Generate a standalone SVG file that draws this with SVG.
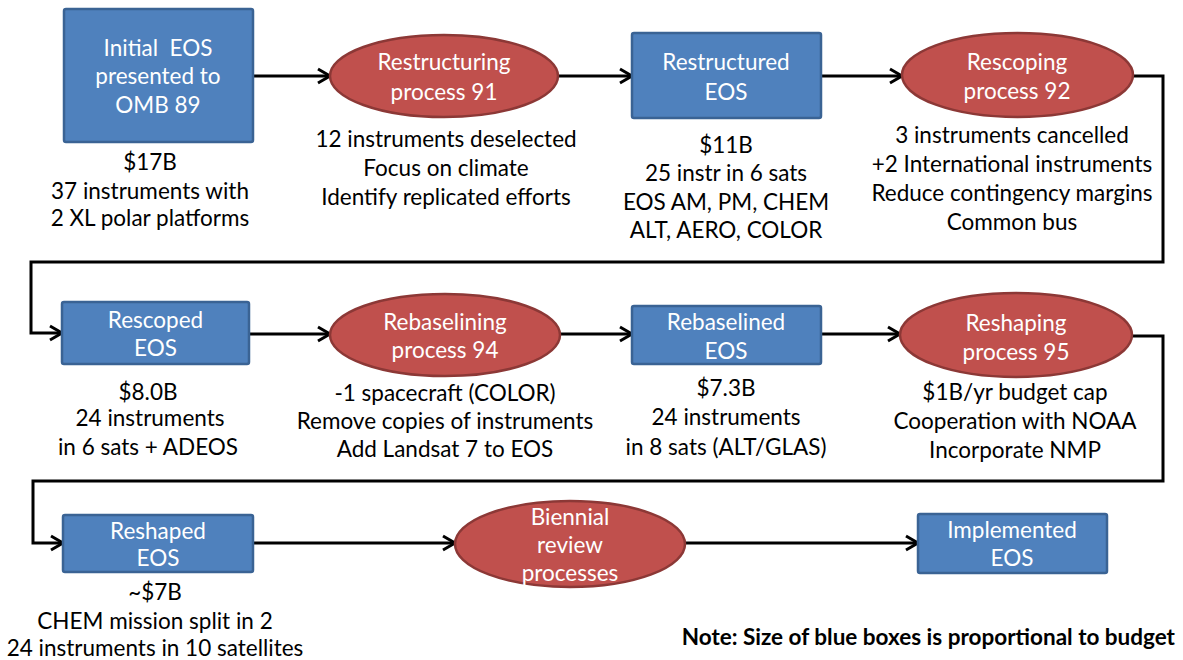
<svg xmlns="http://www.w3.org/2000/svg" width="1183" height="660" viewBox="0 0 1183 660">
  <style>
    .box { fill: #4F81BD; stroke: #3A6394; stroke-width: 2.5; }
    .proc { fill: #C0504D; stroke: #8C3836; stroke-width: 2.5; }
    .wt { fill: #FFFFFF; font-family: Lato, "Liberation Sans", sans-serif; font-size: 22.5px; text-anchor: middle; }
    .bt { fill: #000000; font-family: Lato, "Liberation Sans", sans-serif; font-size: 22.5px; text-anchor: middle; }
    .note { fill: #000000; font-family: Lato, "Liberation Sans", sans-serif; font-size: 22.5px; font-weight: bold; text-anchor: end; }
    .conn { fill: none; stroke: #000000; stroke-width: 3; marker-end: url(#arrow); }
  </style>
  <defs>
    <marker id="arrow" markerUnits="userSpaceOnUse" markerWidth="20" markerHeight="20" viewBox="-14 -10 16 20" refX="0" refY="0" orient="auto">
      <path d="M-12,-7 L0,0 L-12,7" fill="none" stroke="#000000" stroke-width="3"/>
    </marker>
  </defs>

  <!-- connectors -->
  <g id="connectors">
    <path class="conn" d="M253,76 H330"/>
    <path class="conn" d="M558,76 H632"/>
    <path class="conn" d="M821,76 H902"/>
    <path class="conn" d="M1133,76 H1163 V262 H31 V333 H62"/>
    <path class="conn" d="M249,334 H330"/>
    <path class="conn" d="M560,334 H632"/>
    <path class="conn" d="M821,334 H900"/>
    <path class="conn" d="M1132,336 H1163 V481 H33 V543 H63"/>
    <path class="conn" d="M253,543 H455"/>
    <path class="conn" d="M685,543 H918"/>
  </g>

  <!-- row 1 -->
  <g id="initial-eos">
    <rect class="box" x="64" y="9" width="189" height="133" rx="2"/>
    <text class="wt" x="158" y="56" xml:space="preserve">Initial  EOS</text>
    <text class="wt" x="158" y="84">presented to</text>
    <text class="wt" x="158" y="113">OMB 89</text>
    <text class="bt" x="150" y="170">$17B</text>
    <text class="bt" x="150" y="199">37 instruments with</text>
    <text class="bt" x="150" y="226">2 XL polar platforms</text>
  </g>

  <g id="restructuring-process">
    <ellipse class="proc" cx="444" cy="76" rx="114" ry="41"/>
    <text class="wt" x="444" y="70">Restructuring</text>
    <text class="wt" x="444" y="100">process 91</text>
    <text class="bt" x="446" y="147">12 instruments deselected</text>
    <text class="bt" x="446" y="176">Focus on climate</text>
    <text class="bt" x="446" y="205">Identify replicated efforts</text>
  </g>

  <g id="restructured-eos">
    <rect class="box" x="632" y="33" width="189" height="85" rx="2"/>
    <text class="wt" x="726" y="70">Restructured</text>
    <text class="wt" x="726" y="100">EOS</text>
    <text class="bt" x="726" y="153">$11B</text>
    <text class="bt" x="726" y="181">25 instr in 6 sats</text>
    <text class="bt" x="726" y="210">EOS AM, PM, CHEM</text>
    <text class="bt" x="726" y="238">ALT, AERO, COLOR</text>
  </g>

  <g id="rescoping-process">
    <ellipse class="proc" cx="1017.5" cy="75" rx="115.5" ry="42"/>
    <text class="wt" x="1017" y="70">Rescoping</text>
    <text class="wt" x="1017" y="99">process 92</text>
    <text class="bt" x="1012" y="143">3 instruments cancelled</text>
    <text class="bt" x="1012" y="172">+2 International instruments</text>
    <text class="bt" x="1012" y="201">Reduce contingency margins</text>
    <text class="bt" x="1012" y="230">Common bus</text>
  </g>

  <!-- row 2 -->
  <g id="rescoped-eos">
    <rect class="box" x="62" y="302" width="187" height="62" rx="2"/>
    <text class="wt" x="155.5" y="328">Rescoped</text>
    <text class="wt" x="155.5" y="356">EOS</text>
    <text class="bt" x="148" y="400">$8.0B</text>
    <text class="bt" x="150" y="426">24 instruments</text>
    <text class="bt" x="148" y="455">in 6 sats + ADEOS</text>
  </g>

  <g id="rebaselining-process">
    <ellipse class="proc" cx="445" cy="335" rx="115" ry="41"/>
    <text class="wt" x="445" y="330">Rebaselining</text>
    <text class="wt" x="445" y="358">process 94</text>
    <text class="bt" x="445" y="401">-1 spacecraft (COLOR)</text>
    <text class="bt" x="445" y="429">Remove copies of instruments</text>
    <text class="bt" x="445" y="457">Add Landsat 7 to EOS</text>
  </g>

  <g id="rebaselined-eos">
    <rect class="box" x="632" y="306" width="189" height="58" rx="2"/>
    <text class="wt" x="726" y="330">Rebaselined</text>
    <text class="wt" x="726" y="359">EOS</text>
    <text class="bt" x="726" y="396">$7.3B</text>
    <text class="bt" x="726" y="425">24 instruments</text>
    <text class="bt" x="726" y="455">in 8 sats (ALT/GLAS)</text>
  </g>

  <g id="reshaping-process">
    <ellipse class="proc" cx="1016" cy="335" rx="116" ry="42"/>
    <text class="wt" x="1016" y="331">Reshaping</text>
    <text class="wt" x="1016" y="360">process 95</text>
    <text class="bt" x="1015" y="400">$1B/yr budget cap</text>
    <text class="bt" x="1015" y="429">Cooperation with NOAA</text>
    <text class="bt" x="1015" y="458">Incorporate NMP</text>
  </g>

  <!-- row 3 -->
  <g id="reshaped-eos">
    <rect class="box" x="63" y="515" width="190" height="57" rx="2"/>
    <text class="wt" x="158" y="539">Reshaped</text>
    <text class="wt" x="158" y="566">EOS</text>
    <text class="bt" x="155" y="600">~$7B</text>
    <text class="bt" x="155" y="629">CHEM mission split in 2</text>
    <text class="bt" x="155" y="656">24 instruments in 10 satellites</text>
  </g>

  <g id="biennial-review">
    <ellipse class="proc" cx="570" cy="544" rx="115" ry="43"/>
    <text class="wt" x="570" y="525">Biennial</text>
    <text class="wt" x="570" y="553">review</text>
    <text class="wt" x="570" y="581">processes</text>
  </g>

  <g id="implemented-eos">
    <rect class="box" x="918" y="514" width="189" height="59" rx="2"/>
    <text class="wt" x="1012" y="538">Implemented</text>
    <text class="wt" x="1012" y="566">EOS</text>
  </g>

  <text class="note" x="1175" y="645">Note: Size of blue boxes is proportional to budget</text>
</svg>
